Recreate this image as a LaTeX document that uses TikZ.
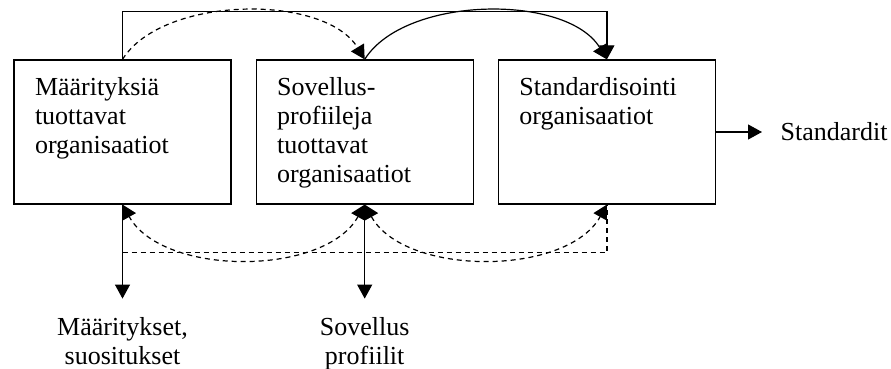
\documentclass[tikz,border=0pt]{standalone}
\usepackage{fontspec}
\setmainfont{Liberation Serif}
\usetikzlibrary{positioning,arrows.meta}

\begin{document}
\begin{tikzpicture}[x=0.5pt,y=-0.5pt,line width=0.6pt,
  >={Triangle[length=7pt,width=7.5pt]},
  org/.style={draw,rectangle,minimum width=108.5pt,minimum height=72pt,inner sep=0pt},
  txt/.style={align=left,inner sep=0pt,anchor=north west,font=\fontsize{13}{14.6}\selectfont},
  result/.style={align=center,inner sep=0pt,font=\fontsize{13}{14.6}\selectfont},
  feedback/.style={dashed,dash pattern=on 2.5pt off 2pt}]
  \useasboundingbox (0,0) rectangle (891,369);

  \node[org] (b1) at (122.5,132) {};
  \node[org, right=12pt of b1] (b2) {};
  \node[org, right=12pt of b2] (b3) {};

  \node[txt] (t1) at ([shift={(21,17)}]b1.north west) {Määrityksiä\\tuottavat\\organisaatiot};
  \node[txt] (t2) at ([shift={(21,17)}]b2.north west) {Sovellus-\\profiileja\\tuottavat\\organisaatiot};
  \node[txt] (t3) at ([shift={(21,17)}]b3.north west) {Standardisointi\\organisaatiot};

  \node[result, right=32pt of b3] (std) {Standardit};
  \node[result, below=56pt of b1] (o1) {Määritykset,\\suositukset};
  \node[result, below=56pt of b2] (o2) {Sovellus\\profiilit};

  % upper flows
  \draw[->] (b1.north) -- ++(0,-48) -| (b3.north);
  \draw[->] (b2.north) .. controls +(40,-64) and +(-40,-66) .. (b3.north);
  \draw[->,feedback] (b1.north) .. controls +(40,-64) and +(-40,-66) .. (b2.north);

  % lower flows
  \draw[<->,feedback] (b2.south) .. controls +(-40,72) and +(40,72) .. (b1.south);
  \draw[<->,feedback] (b2.south) .. controls +(40,72) and +(-40,72) .. (b3.south);
  \coordinate (j1) at ([yshift=-24pt]b1.south);
  \draw[feedback] (j1) -| (b3.south);

  % outputs
  \draw[->,shorten >=9pt] (b1.south) -- (o1.north);
  \draw[->,shorten >=9pt] (b2.south) -- (o2.north);
  \draw[->,shorten >=9pt] (b3.east) -- (std.west);
\end{tikzpicture}
\end{document}
